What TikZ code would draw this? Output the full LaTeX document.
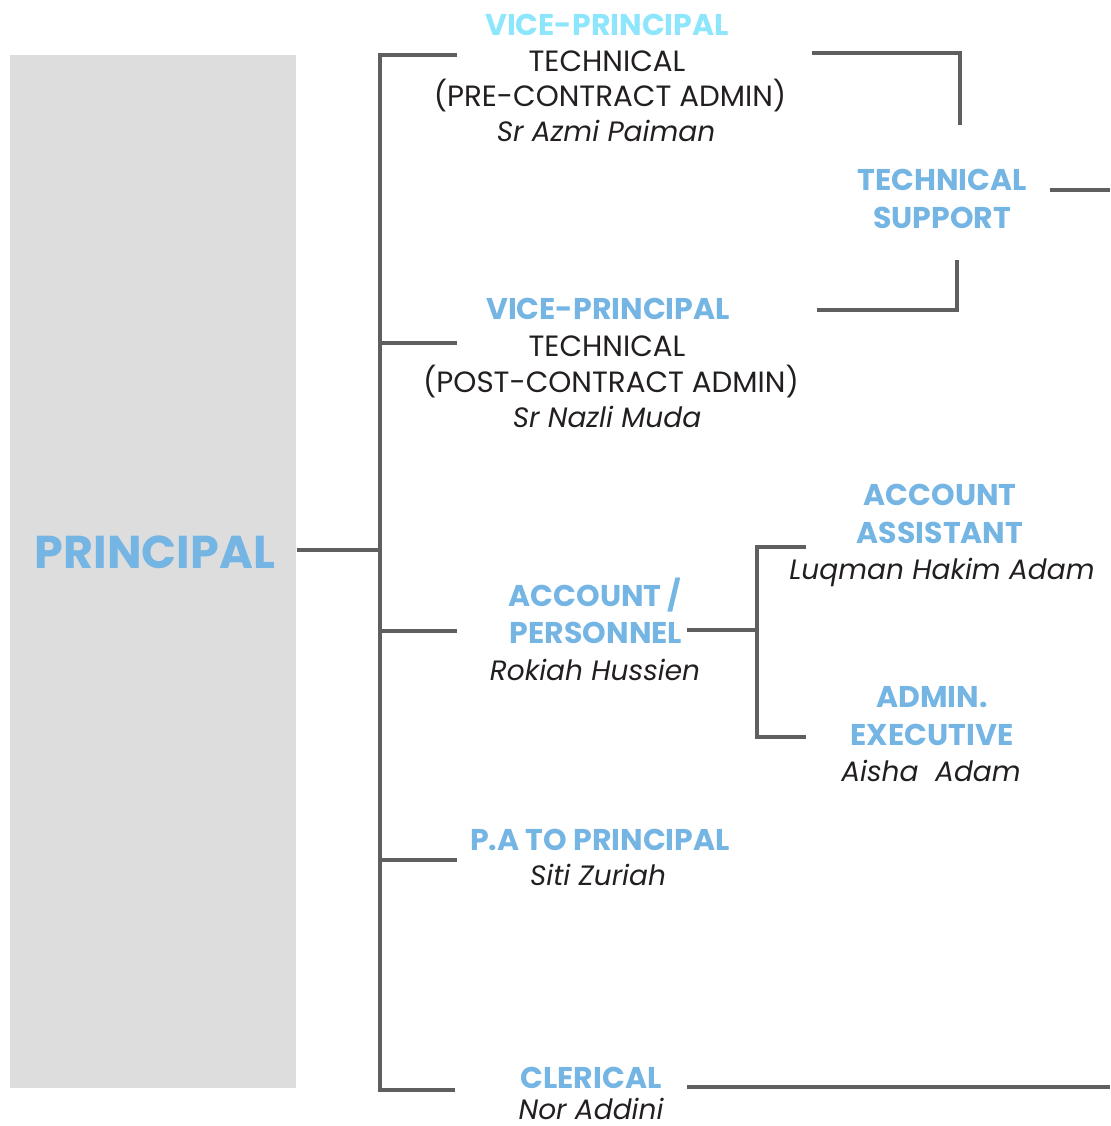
\documentclass[tikz,border=0pt]{standalone}
\usepackage{fontspec}
\setmainfont{Poppins}
\definecolor{hd}{HTML}{74B5E4}
\definecolor{hdc}{HTML}{8EE6FC}
\definecolor{ln}{HTML}{5F5F5F}
\definecolor{bx}{HTML}{DDDDDD}
\definecolor{tx}{HTML}{231F20}
\begin{document}
\begin{tikzpicture}[x=0.75pt,y=-0.75pt,
  head/.style={font=\fontsize{22.5}{26}\selectfont\bfseries, text=hd, inner sep=0pt, anchor=base},
  plain/.style={font=\fontsize{22}{26}\selectfont, text=tx, inner sep=0pt, anchor=base},
  who/.style={font=\fontsize{21}{25}\selectfont\itshape, text=tx, inner sep=0pt, anchor=base},
  link/.style={draw=ln, line width=2.3pt}]
\useasboundingbox (0,0) rectangle (1110,1126);
% principal box
\node[fill=bx, inner sep=0pt, minimum width=214.5pt, minimum height=774.75pt, anchor=north west] (pbox) at (10,55) {};
\node[head, font=\fontsize{34.5}{40}\selectfont\bfseries] (plabel) at (155,568) {PRINCIPAL};
% VP1
\node[head, text=hdc] (vp1a) at (607,36) {VICE-PRINCIPAL};
\node[plain] (vp1b) at (607,72) {TECHNICAL};
\node[plain] (vp1c) at (610,107) {(PRE-CONTRACT ADMIN)};
\node[who] (vp1d) at (606,142) {Sr Azmi Paiman};
% VP2
\node[head] (vp2a) at (608,320) {VICE-PRINCIPAL};
\node[plain] (vp2b) at (607,357) {TECHNICAL};
\node[plain] (vp2c) at (611,392) {(POST-CONTRACT ADMIN)};
\node[who] (vp2d) at (607,427) {Sr Nazli Muda};
% Technical support
\node[head] (tsa) at (942,191) {TECHNICAL};
\node[head] (tsb) at (942,229) {SUPPORT};
% Account / personnel
\node[head] (apa) at (595,606) {ACCOUNT /};
\node[head] (apb) at (596,643) {PERSONNEL};
\node[who] (apc) at (595,680) {Rokiah Hussien};
% Account assistant
\node[head] (aaa) at (940,505) {ACCOUNT};
\node[head] (aab) at (940,543) {ASSISTANT};
\node[who] (aac) at (942,579) {Luqman Hakim Adam};
% Admin executive
\node[head] (aea) at (932,707) {ADMIN.};
\node[head] (aeb) at (932,745) {EXECUTIVE};
\node[who] (aec) at (931,781) {Aisha\ \ Adam};
% PA
\node[head] (paa) at (600,850) {P.A TO PRINCIPAL};
\node[who] (pab) at (598,885) {Siti Zuriah};
% Clerical
\node[head] (cla) at (591,1088) {CLERICAL};
\node[who, text depth=0pt] (clb) at (591,1119) {Nor Addini};
% coordinates
\coordinate (t0) at (380,55);
\coordinate (t5) at (380,1090);
\coordinate (tp) at (380,550);
\coordinate (t2) at (380,343);
\coordinate (t3) at (380,631);
\coordinate (t4) at (380,860);
\coordinate (e1) at (457,55);
\coordinate (e2) at (457,343);
\coordinate (e3) at (457,631);
\coordinate (e4) at (457,860);
\coordinate (e5) at (455,1090);
\coordinate (ts1) at (812,53);
\coordinate (ts1c) at (960,53);
\coordinate (ts1e) at (960,125);
\coordinate (ts2) at (817,310);
\coordinate (ts2c) at (957,310);
\coordinate (ts2e) at (957,260);
\coordinate (ts3) at (1050,190);
\coordinate (ts3e) at (1110,190);
\coordinate (ap1) at (687,630);
\coordinate (apj) at (757,630);
\coordinate (apt) at (757,547);
\coordinate (apbot) at (757,737);
\coordinate (aa1) at (806,547);
\coordinate (ae1) at (806,737);
\coordinate (cl1) at (687,1087);
\coordinate (cl2) at (1110,1087);
% connectors
\draw[link] (pbox.east |- tp) -- (tp);
\draw[link] (e1) -- (t0) -- (t5) -- (e5);
\draw[link] (t2) -- (e2);
\draw[link] (t3) -- (e3);
\draw[link] (t4) -- (e4);
\draw[link] (ts1) -- (ts1c) -- (ts1e);
\draw[link] (ts2) -- (ts2c) -- (ts2e);
\draw[link] (ts3) -- (ts3e);
\draw[link] (ap1) -- (apj);
\draw[link] (aa1) -- (apt) -- (apbot) -- (ae1);
\draw[link] (cl1) -- (cl2);
\end{tikzpicture}
\end{document}
